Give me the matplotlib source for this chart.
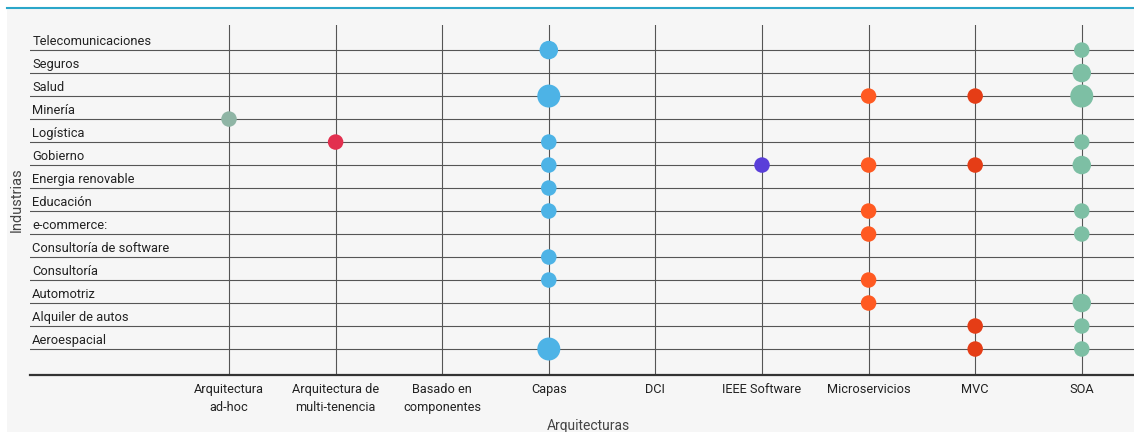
import matplotlib
matplotlib.use("Agg")
import matplotlib.pyplot as plt
from matplotlib.patches import Rectangle
from matplotlib.lines import Line2D

plt.rcParams['font.family'] = ['Roboto', 'DejaVu Sans']

# industrias (de arriba hacia abajo)
industrias = ["Telecomunicaciones", "Seguros", "Salud", "Minería", "Logística",
              "Gobierno", "Energia renovable", "Educación", "e-commerce:",
              "Consultoría de software", "Consultoría", "Automotriz",
              "Alquiler de autos", "Aeroespacial"]

arquitecturas = ["Arquitectura\nad-hoc", "Arquitectura de\nmulti-tenencia",
                 "Basado en\ncomponentes", "Capas", "DCI", "IEEE Software",
                 "Microservicios", "MVC", "SOA"]

# puntos por arquitectura: industrias y cantidad
adhoc_ind = ["Minería"]
adhoc_n = [1]
multi_ind = ["Logística"]
multi_n = [1]
capas_ind = ["Telecomunicaciones", "Salud", "Logística", "Gobierno", "Energia renovable",
             "Educación", "Consultoría de software", "Consultoría", "Aeroespacial"]
capas_n = [2, 3, 1, 1, 1, 1, 1, 1, 3]
ieee_ind = ["Gobierno"]
ieee_n = [1]
micro_ind = ["Salud", "Gobierno", "Educación", "e-commerce:", "Consultoría", "Automotriz"]
micro_n = [1, 1, 1, 1, 1, 1]
mvc_ind = ["Salud", "Gobierno", "Alquiler de autos", "Aeroespacial"]
mvc_n = [1, 1, 1, 1]
soa_ind = ["Telecomunicaciones", "Seguros", "Salud", "Logística", "Gobierno",
           "Educación", "e-commerce:", "Automotriz", "Alquiler de autos", "Aeroespacial"]
soa_n = [1, 2, 3, 1, 2, 1, 1, 2, 1, 1]

series = [
    (0, adhoc_ind, adhoc_n, "#8fb5a5"),
    (1, multi_ind, multi_n, "#e2304f"),
    (3, capas_ind, capas_n, "#4db3e6"),
    (5, ieee_ind, ieee_n, "#5a3fd9"),
    (6, micro_ind, micro_n, "#ff5a22"),
    (7, mvc_ind, mvc_n, "#e53d16"),
    (8, soa_ind, soa_n, "#7dbfa4"),
]

W, H = 1134, 432
fig = plt.figure(figsize=(W / 100, H / 100), dpi=100, facecolor="white")

# fondo gris claro y línea azul superior (detrás de todo)
fig.patches.append(Rectangle((7 / W, 0), 1, 1 - 8 / H, transform=fig.transFigure,
                             facecolor="#f6f6f6", edgecolor="none", zorder=-10))
fig.lines.append(Line2D([7 / W, 1], [1 - 8 / H, 1 - 8 / H], transform=fig.transFigure,
                        color="#2aa6c9", lw=1.5, zorder=-9))

ax = fig.add_axes([30 / W, 1 - 375 / H, 1 - 30 / W, 350 / H])
ax.set_facecolor("none")

n = len(industrias)
ypos = {name: n - 1 - i for i, name in enumerate(industrias)}

# escala de ejes según la imagen
ax.set_xlim(-1.867, 8.49)
ax.set_ylim(-1.13, n - 1 + 1.09)

for i in range(len(arquitecturas)):
    ax.axvline(i, color="#555555", lw=0.8, zorder=1)
for name in industrias:
    ax.axhline(ypos[name], color="#555555", lw=0.8, zorder=1)
    ax.text(0.002, ypos[name] + 0.36, name, transform=ax.get_yaxis_transform(),
            fontsize=9.3, color="#222222", va="center", ha="left")

# burbujas
diam = {1: 15.5, 2: 18.5, 3: 23}
for xi, inds, cnt, col in series:
    xs = [xi] * len(inds)
    ys = [ypos[k] for k in inds]
    ss = [(diam[c] * 0.72) ** 2 for c in cnt]
    ax.scatter(xs, ys, s=ss, color=col, edgecolors="none", zorder=3)

for s in ["top", "right", "left"]:
    ax.spines[s].set_visible(False)
ax.spines["bottom"].set_color("#333333")
ax.spines["bottom"].set_linewidth(1.6)

ax.set_yticks([])
ax.set_xticks(range(len(arquitecturas)))
ax.set_xticklabels(arquitecturas, fontsize=9.2, color="#222222", linespacing=1.45)
ax.tick_params(axis="x", length=0, pad=6)

fig.text(17 / W, 1 - 200 / H, "Industrias", rotation=90, fontsize=10.5,
         color="#444444", ha="center", va="center")
fig.text(588 / W, 1 - 419 / H, "Arquitecturas", fontsize=10,
         color="#444444", ha="center", va="top")

fig.savefig("out.png", dpi=100, facecolor="white")
